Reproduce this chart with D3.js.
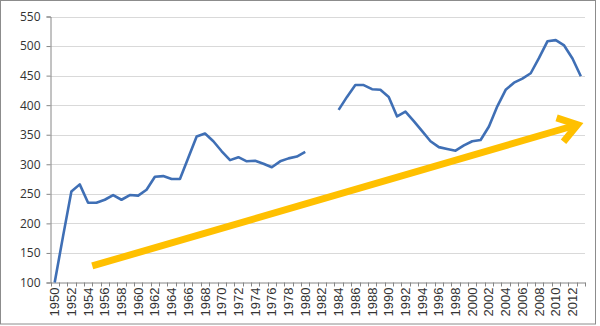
<!DOCTYPE html>
<html><head><meta charset="utf-8">
<script src="https://cdn.jsdelivr.net/npm/d3@7"></script>
<style>body{margin:0;background:#fff}svg{display:block}</style>
</head><body>
<script>
const years = d3.range(1950, 2014);
const values = [100,178,254,266,235,235,240,248,240,248,247,257,279,280,275,275,311,347,352,339,322,307,312,305,306,301,295,305,310,313,321,
  null,null,null,
  392,414,434,434,427,426,414,381,389,373,356,339,329,326,323,332,339,341,364,398,426,438,445,454,480,508,510,501,479,449];
const yTicks = [100,150,200,250,300,350,400,450,500,550];
const xTickLabels = years.filter(y => y % 2 === 0);
const arrowStart = {year: 1954.5, value: 128};
const arrowEnd = {year: 2012.6, value: 367};

(function draw() {
const W = 600, H = 326;
const svg = d3.select("body").append("svg").attr("width", W).attr("height", H);
svg.append("rect").attr("x",0.5).attr("y",0.5).attr("width",595).attr("height",323.5)
  .attr("fill","#fff").attr("stroke","#8c8c8c").attr("stroke-width",1);

const mLeft = 50.5, mRight = 585, mTop = 16.5, mBottom = 282.5;
const x = d3.scaleBand().domain(years).range([mLeft, mRight]);
const xc = yr => x(Math.floor(yr)) + x.bandwidth()/2 + (yr - Math.floor(yr)) * x.step();
const y = d3.scaleLinear().domain([100, 550]).range([mBottom, mTop]);

svg.append("g").selectAll("line").data(yTicks.filter(t => t > 100)).join("line")
  .attr("x1", mLeft).attr("x2", mRight).attr("y1", d => Math.round(y(d))+0.5).attr("y2", d => Math.round(y(d))+0.5)
  .attr("stroke", "#d9d9d9").attr("stroke-width", 1);

const yAxis = svg.append("g").attr("transform", `translate(${mLeft},0)`)
  .call(d3.axisLeft(y).tickValues(yTicks).tickSize(4).tickPadding(6));
yAxis.select(".domain").attr("stroke", "#868686");
yAxis.selectAll(".tick line").attr("stroke", "#868686");
yAxis.selectAll("text").attr("font-family", "'Open Sans', 'Liberation Sans', sans-serif").attr("font-size", 12).attr("fill", "#333");

const xAxis = svg.append("g").attr("transform", `translate(0,${mBottom})`)
  .call(d3.axisBottom(x).tickValues([]).tickSize(0));
xAxis.select(".domain").attr("stroke", "#868686");
svg.append("g").selectAll("line").data(d3.range(years.length + 1)).join("line")
  .attr("x1", i => Math.round(mLeft + i * x.step()) + 0.5).attr("x2", i => Math.round(mLeft + i * x.step()) + 0.5)
  .attr("y1", mBottom).attr("y2", mBottom + 4).attr("stroke", "#868686");
svg.append("g").selectAll("text").data(xTickLabels).join("text")
  .attr("transform", d => `translate(${x(d) + x.bandwidth()/2 + 4.5},${mBottom + 5}) rotate(-90)`)
  .attr("text-anchor", "end")
  .attr("font-family", "'Liberation Sans', Arial, sans-serif").attr("font-size", 13).attr("fill", "#333")
  .text(d => d);

const line = d3.line().defined(d => d[1] !== null)
  .x(d => x(d[0]) + x.bandwidth()/2).y(d => y(d[1])).curve(d3.curveLinear);
svg.append("path").datum(years.map((yr, i) => [yr, values[i]]))
  .attr("d", line).attr("fill", "none").attr("stroke", "#3F6FB5").attr("stroke-width", 2.6)
  .attr("stroke-linejoin", "round");

const x0 = xc(arrowStart.year), y0 = y(arrowStart.value);
const x1 = xc(arrowEnd.year), y1 = y(arrowEnd.value);
const ang = Math.atan2(y1 - y0, x1 - x0);
const headLen = 22, headAng = 0.6;
const gArrow = svg.append("g").attr("stroke", "#FFC000").attr("stroke-width", 7).attr("fill", "none");
gArrow.append("line").attr("x1", x0).attr("y1", y0).attr("x2", x1 - 3*Math.cos(ang)).attr("y2", y1 - 3*Math.sin(ang));
gArrow.append("path")
  .attr("d", `M${x1 - headLen*Math.cos(ang - headAng)},${y1 - headLen*Math.sin(ang - headAng)} L${x1},${y1} L${x1 - headLen*Math.cos(ang + headAng)},${y1 - headLen*Math.sin(ang + headAng)}`)
  .attr("stroke-linejoin", "miter").attr("stroke-linecap", "butt");
})();
</script>
</body></html>
